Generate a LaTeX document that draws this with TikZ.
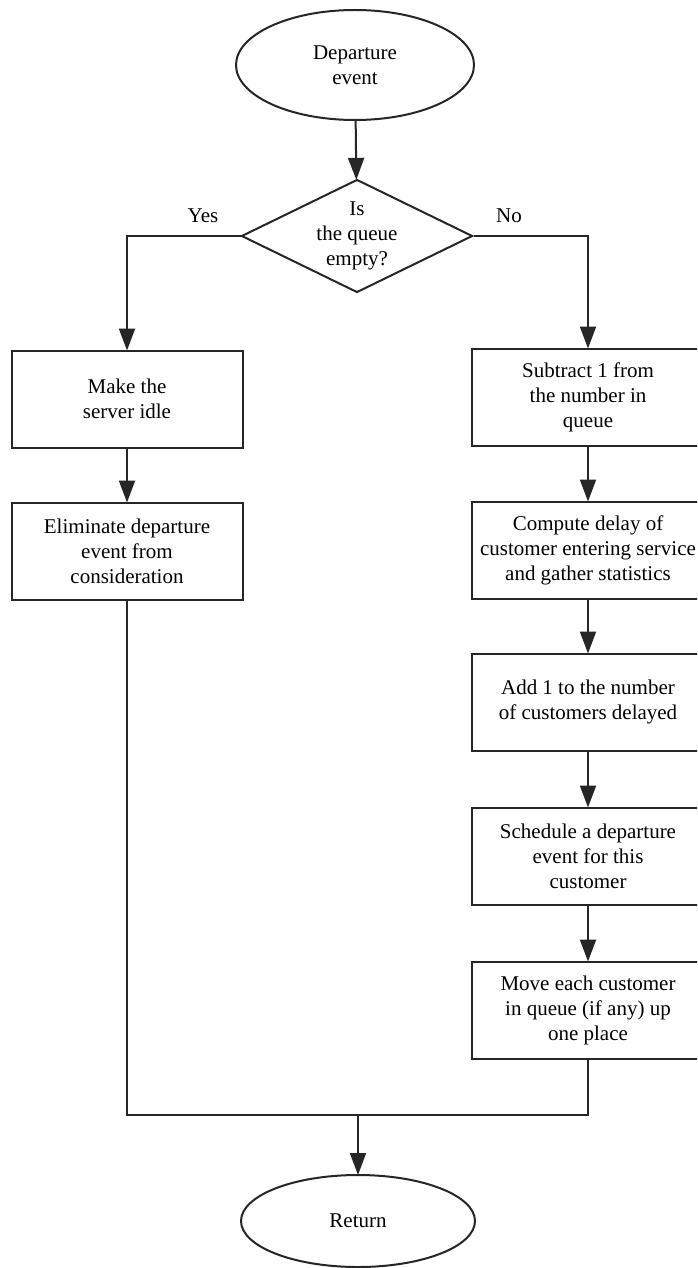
\documentclass[tikz,border=0pt]{standalone}
\usepackage{fontspec}
\setmainfont{Liberation Serif}
\usetikzlibrary{shapes.geometric,arrows.meta}
\begin{document}
\begin{tikzpicture}[x=1pt,y=-1pt,
  every node/.style={font=\fontsize{21}{25}\selectfont, text=black},
  ink/.style={draw=black!85, line width=2pt},
  stepbox/.style={ink, rectangle, inner sep=0pt, align=center,
    minimum width=231pt, minimum height=97pt},
  terminal/.style={ink, ellipse, inner sep=0pt, align=center},
  decision/.style={ink, diamond, inner sep=0pt, align=center, shape aspect=2.05,
    minimum width=231pt, minimum height=113pt},
  flow/.style={ink},
  arr/.style={ink, -{Triangle[width=16pt,length=22pt]}, shorten >=-1pt},
]
\useasboundingbox (0,0) rectangle (697,1268);
\clip (0,0) rectangle (697,1268);

% start and decision
\node[terminal, minimum width=238pt, minimum height=110pt] (start) at (355,65) {Departure\\event};
\node[decision] (dec) at (357,236) {Is\\the queue\\empty?};
\node (yes) at (203,216) {Yes};
\node (no) at (509,216) {No};

% left branch: queue empty
\node[stepbox] (l1) at (127,399) {Make the\\server idle};
\node[stepbox] (l2) at (127,551) {Eliminate departure\\event from\\consideration};

% right branch: queue not empty
\node[stepbox, minimum width=232pt] (r1) at (588,397) {Subtract 1 from\\the number in\\queue};
\node[stepbox, minimum width=232pt] (r2) at (588,550) {Compute delay of\\customer entering service\\and gather statistics};
\node[stepbox, minimum width=232pt] (r3) at (588,702) {Add 1 to the number\\of customers delayed};
\node[stepbox, minimum width=232pt] (r4) at (588,856) {Schedule a departure\\event for this\\customer};
\node[stepbox, minimum width=232pt] (r5) at (588,1010) {Move each customer\\in queue (if any) up\\one place};

% end
\node[terminal, minimum width=234pt, minimum height=92pt] (ret) at (358,1221) {Return};

% connectors
\draw[arr] (start) -- (dec);
\draw[arr] (dec.west) -| (l1);
\draw[arr] (dec.east) -| (r1);
\draw[arr] (l1) -- (l2);
\draw[arr] (r1) -- (r2);
\draw[arr] (r2) -- (r3);
\draw[arr] (r3) -- (r4);
\draw[arr] (r4) -- (r5);

\coordinate (jl) at (l2.south |- 0,1115);
\coordinate (jr) at (r5.south |- 0,1115);
\coordinate (jm) at (ret.north |- 0,1115);
\draw[flow] (l2.south) -- (jl) -- (jr) -- (r5.south);
\draw[arr] (jm) -- (ret);
\end{tikzpicture}
\end{document}
